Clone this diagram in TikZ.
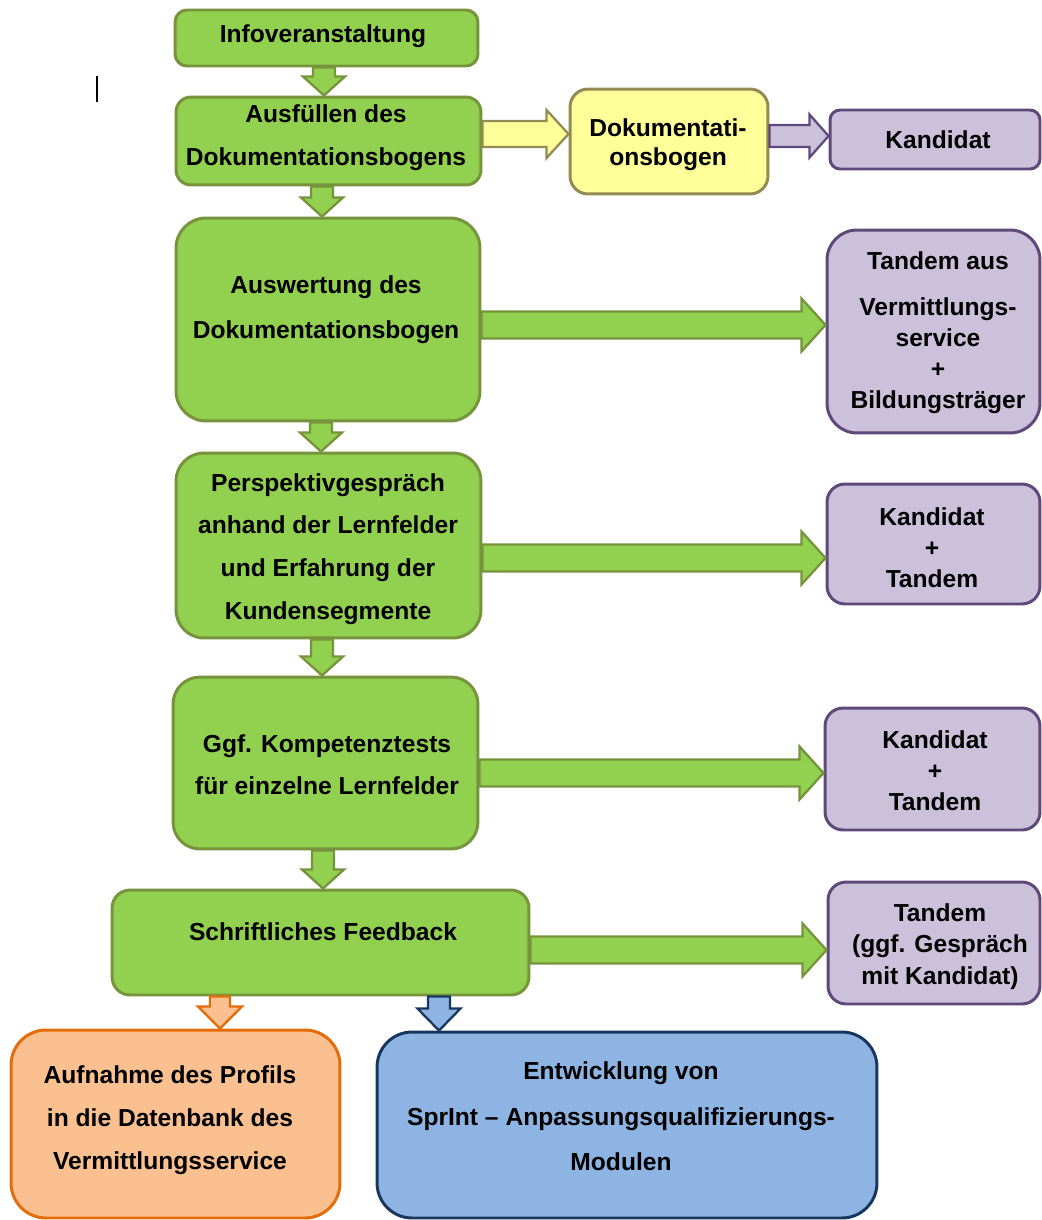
\documentclass[tikz,border=0pt]{standalone}
\usepackage{fontspec}
\setmainfont{Liberation Sans}
\usetikzlibrary{calc}

\definecolor{boxgreen}{HTML}{92D050}
\definecolor{linegreen}{HTML}{77933C}
\definecolor{boxyellow}{HTML}{FFFF99}
\definecolor{lineyellow}{HTML}{948A54}
\definecolor{boxlilac}{HTML}{CCC1DA}
\definecolor{linelilac}{HTML}{5F497A}
\definecolor{boxorange}{HTML}{FAC090}
\definecolor{lineorange}{HTML}{E46C0A}
\definecolor{boxblue}{HTML}{8EB4E3}
\definecolor{lineblue}{HTML}{17375E}

\tikzset{
	box/.style={draw, line width=1.7pt, inner sep=0pt},
	greenbox/.style={box, fill=boxgreen, draw=linegreen},
	yellowbox/.style={box, fill=boxyellow, draw=lineyellow},
	lilacbox/.style={box, fill=boxlilac, draw=linelilac},
	orangebox/.style={box, fill=boxorange, draw=lineorange},
	bluebox/.style={box, fill=boxblue, draw=lineblue},
	txt/.style={align=center, inner sep=0pt, yshift=-1.1pt, font={\bfseries\fontsize{14}{24.5}\selectfont}},
	tighttxt/.style={align=center, inner sep=0pt, yshift=-1.1pt, font={\bfseries\fontsize{14}{17.6}\selectfont}},
	fatline/.style={line width=1.3pt, line join=miter},
	greenarrow/.style={fatline, fill=boxgreen, draw=linegreen},
	yellowarrow/.style={fatline, fill=boxyellow, draw=lineyellow},
	lilacarrow/.style={fatline, fill=boxlilac, draw=linelilac},
	orangearrow/.style={fatline, fill=boxorange, draw=lineorange},
	bluearrow/.style={fatline, fill=boxblue, draw=lineblue}
}

% block arrows: style, from, to, shaft half width, head half width, head length
\newcommand{\hfat}[6]{%
	\draw[#1] let \p1=#2, \p2=#3 in
		(\x1,\y1+#4) -- (\x2-#6,\y1+#4) -- (\x2-#6,\y1+#5) -- (\x2,\y1)
		-- (\x2-#6,\y1-#5) -- (\x2-#6,\y1-#4) -- (\x1,\y1-#4) -- cycle;
}
\newcommand{\vfat}[6]{%
	\draw[#1] let \p1=#2, \p2=#3 in
		(\x1-#4,\y1) -- (\x1-#4,\y2+#6) -- (\x1-#5,\y2+#6) -- (\x1,\y2)
		-- (\x1+#5,\y2+#6) -- (\x1+#4,\y2+#6) -- (\x1+#4,\y1) -- cycle;
}

\begin{document}
\begin{tikzpicture}[x=0.02cm, y=-0.02cm]
	\useasboundingbox (0,0) rectangle (1041,1220);
	
	% boxes
	\node[greenbox, minimum width=6.06cm, minimum height=1.12cm, rounded corners=0.24cm] (info) at (326.5,38) {};
	\node[greenbox, minimum width=6.1cm, minimum height=1.76cm, rounded corners=0.3cm] (ausf) at (328.5,141) {};
	\node[yellowbox, minimum width=3.96cm, minimum height=2.1cm, rounded corners=0.36cm] (dok) at (669,141.5) {};
	\node[lilacbox, minimum width=4.2cm, minimum height=1.18cm, rounded corners=0.2cm] (kand) at (935,139.5) {};
	\node[greenbox, minimum width=6.08cm, minimum height=4.06cm, rounded corners=0.6cm] (ausw) at (328,319.5) {};
	\node[lilacbox, minimum width=4.26cm, minimum height=4.06cm, rounded corners=0.6cm] (tand) at (933.5,331.5) {};
	\node[greenbox, minimum width=6.1cm, minimum height=3.7cm, rounded corners=0.56cm] (persp) at (328.5,545.5) {};
	\node[lilacbox, minimum width=4.26cm, minimum height=2.4cm, rounded corners=0.36cm] (kt1) at (933.5,544) {};
	\node[greenbox, minimum width=6.1cm, minimum height=3.44cm, rounded corners=0.54cm] (ggf) at (325.5,763) {};
	\node[lilacbox, minimum width=4.3cm, minimum height=2.44cm, rounded corners=0.36cm] (kt2) at (932.5,769) {};
	\node[greenbox, minimum width=8.34cm, minimum height=2.1cm, rounded corners=0.36cm] (feed) at (320.5,942.5) {};
	\node[lilacbox, minimum width=4.24cm, minimum height=2.44cm, rounded corners=0.36cm] (tgg) at (934,943) {};
	\node[orangebox, minimum width=6.58cm, minimum height=3.76cm, rounded corners=0.7cm] (aufn) at (175.5,1124) {};
	\node[bluebox, minimum width=10cm, minimum height=3.72cm, rounded corners=0.7cm] (entw) at (627,1125) {};
	
	% texts
	\node[txt] (info-txt) at (323,34) {Infoveranstaltung};
	\node[txt] (ausf-txt) at (326,135.5) {Ausfüllen des\\Dokumentationsbogens};
	\node[txt, font={\bfseries\fontsize{14}{16.5}\selectfont}] (dok-txt) at (668,142.5) {Dokumentati-\\onsbogen};
	\node[txt] (kand-txt) at (938,138) {Kandidat};
	\node[txt, font={\bfseries\fontsize{14}{25.6}\selectfont}] (ausw-txt) at (326,307.5) {Auswertung des\\Dokumentationsbogen};
	\node[tighttxt] (tand-txt) at (938,331) {Tandem aus\\[8.6pt]Vermittlungs-\\service\\+\\Bildungsträger};
	\node[txt, font={\bfseries\fontsize{14}{24.3}\selectfont}] (persp-txt) at (328,547) {Perspektivgespräch\\anhand der Lernfelder\\und Erfahrung der\\Kundensegmente};
	\node[tighttxt] (kt1-txt) at (932,546) {Kandidat\\+\\Tandem};
	\node[txt, font={\bfseries\fontsize{14}{23.9}\selectfont}] (ggf-txt) at (327,763) {Ggf. Kompetenztests\\für einzelne Lernfelder};
	\node[tighttxt] (kt2-txt) at (935,769) {Kandidat\\+\\Tandem};
	\node[txt] (feed-txt) at (323,930) {Schriftliches Feedback};
	\node[tighttxt, font={\bfseries\fontsize{14}{17.9}\selectfont}] (tgg-txt) at (940,944.5) {Tandem\\(ggf. Gespräch\\mit Kandidat)};
	\node[txt] (aufn-txt) at (170,1118) {Aufnahme des Profils\\in die Datenbank des\\Vermittlungsservice};
	\node[txt, font={\bfseries\fontsize{14}{25.9}\selectfont}] (entw-txt) at (621,1114.5) {Entwicklung von\\SprInt – Anpassungsqualifizierungs-\\Modulen};
	
	% arrows down the green column
	\foreach \a/\b/\dx in {info/ausf/-2.5, ausf/ausw/-6.5, ausw/persp/-7, persp/ggf/-6.5, ggf/feed/-2.5}
	{
		\vfat{greenarrow}{($(\a.south)+(\dx,0)$)}{(\b.north)}{0.22cm}{0.42cm}{0.38cm}
	};
	
	% arrows to the right
	\foreach \a/\b/\dy in {ausw/tand/5.5, persp/kt1/12.5, ggf/kt2/10, feed/tgg/7.5}
	{
		\hfat{greenarrow}{($(\a.east)+(0,\dy)$)}{(\b.west)}{0.27cm}{0.53cm}{0.48cm}
	};
	
	\hfat{yellowarrow}{($(ausf.east)+(0,-7)$)}{(dok.west)}{0.26cm}{0.48cm}{0.44cm}
	\hfat{lilacarrow}{($(dok.east)+(0,-5.5)$)}{(kand.west)}{0.22cm}{0.43cm}{0.38cm}
	\vfat{orangearrow}{($(feed.south)+(-100.5,0)$)}{(aufn.north)}{0.2cm}{0.44cm}{0.44cm}
	\vfat{bluearrow}{($(feed.south)+(118.5,0)$)}{(entw.north)}{0.22cm}{0.43cm}{0.44cm}
	
	% text cursor
	\draw[line width=1.6pt] (97,76)--(97,102);
	
\end{tikzpicture}
\end{document}
